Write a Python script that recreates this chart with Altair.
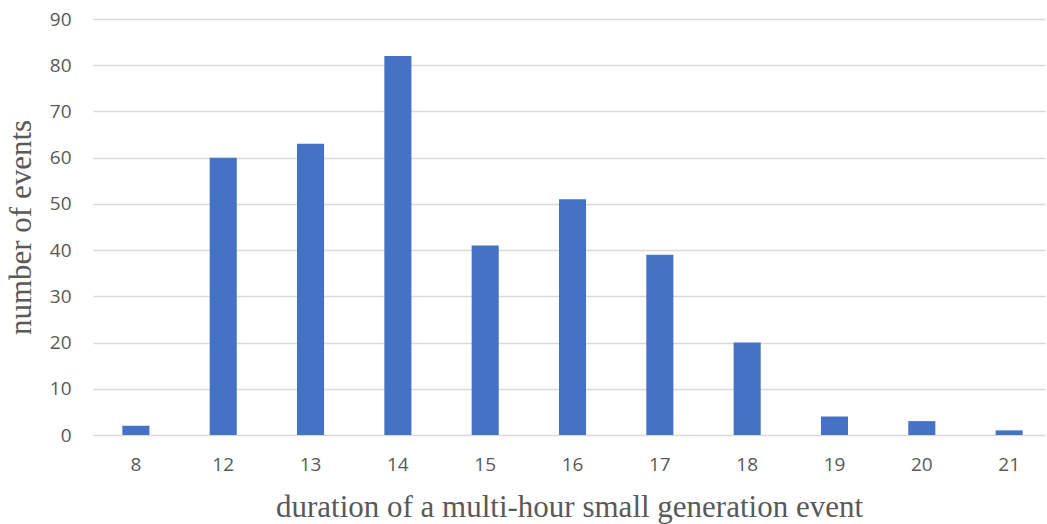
import altair as alt
import pandas as pd

durations = ["8", "12", "13", "14", "15", "16", "17", "18", "19", "20", "21"]
counts = [2, 60, 63, 82, 41, 51, 39, 20, 4, 3, 1]

df = pd.DataFrame({"duration": durations, "count": counts})

chart = alt.Chart(df).mark_bar(color="#4472c4").encode(
    x=alt.X("duration:N", sort=durations,
            scale=alt.Scale(paddingInner=0.69, paddingOuter=0.296, align=0.568),
            axis=alt.Axis(title="duration of a multi-hour small generation  event",
                          labelAngle=0, domain=False, ticks=False,
                          labelPadding=20, titlePadding=18)),
    y=alt.Y("count:Q", scale=alt.Scale(domain=[0, 90]),
            axis=alt.Axis(title="number of events", values=list(range(0, 91, 10)),
                          domain=False, ticks=False, labelPadding=22,
                          titlePadding=12, gridColor="#d9d9d9", gridWidth=1.3)),
).properties(
    width=952, height=416,
    autosize=alt.AutoSizeParams(type="none"),
    padding={"left": 93, "top": 19, "right": 2, "bottom": 89},
).configure_axis(
    labelFont="Open Sans", labelFontSize=19, labelColor="#595959",
    titleFont="Liberation Serif", titleFontSize=31, titleColor="#595959",
    titleFontWeight="normal",
).configure_view(stroke=None)

chart.save("out.html", embed_options={"renderer": "svg", "actions": False})
